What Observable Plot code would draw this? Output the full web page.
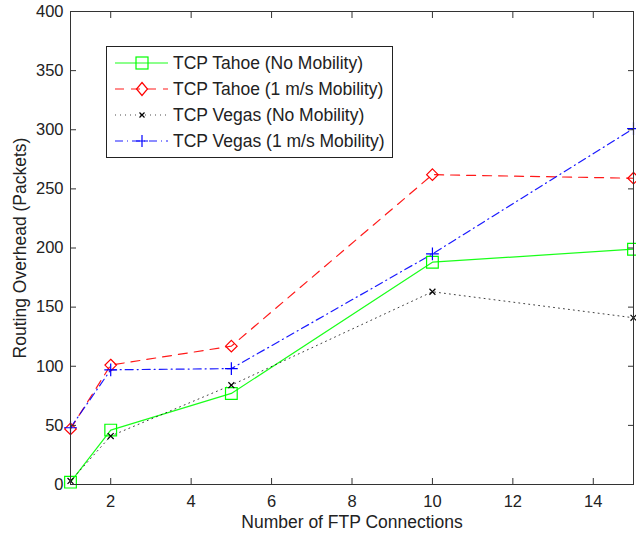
<!DOCTYPE html>
<html>
<head>
<meta charset="utf-8">
<script src="https://cdn.jsdelivr.net/npm/d3@7"></script>
<script src="https://cdn.jsdelivr.net/npm/@observablehq/plot@0.6"></script>
<style>
  html, body { margin: 0; padding: 0; background: #fff; }
  #wrap { position: relative; width: 636px; height: 535px; font-family: "Liberation Sans", Arial, sans-serif; }
  #legend { position: absolute; left: 106px; top: 46px; }
</style>
</head>
<body>
<div id="wrap"></div>
<script>
// Data
const connections = [1, 2, 5, 10, 15];
const tahoeNoMob  = [2, 46, 77, 188, 199];
const tahoeMob    = [47, 101, 117, 262, 259];
const vegasNoMob  = [3, 41, 84, 163, 141];
const vegasMob    = [48, 97, 98, 195, 301];

const seriesNames = [
  "TCP Tahoe (No Mobility)",
  "TCP Tahoe (1 m/s Mobility)",
  "TCP Vegas (No Mobility)",
  "TCP Vegas (1 m/s Mobility)"
];
const seriesValues = [tahoeNoMob, tahoeMob, vegasNoMob, vegasMob];
const xTicks = [2, 4, 6, 8, 10, 12, 14];
const yTicks = [0, 50, 100, 150, 200, 250, 300, 350, 400];
const xLabel = "Number of FTP Connections";
const yLabel = "Routing Overhead (Packets)";

const styles = [
  {color: "#00ff00", dash: null, symbol: "square", r: 6.6, sw: 1.2},
  {color: "#ff0000", dash: "9,7", symbol: "diamond2", r: 5.2, sw: 1.2},
  {color: "#000000", dash: "1,4", symbol: "times", r: 2.8, sw: 1},
  {color: "#0000ff", dash: "8,4,1,4", symbol: "plus", r: 4.2, sw: 1.2}
];

const rows = [];
seriesNames.forEach((name, i) => {
  connections.forEach((c, j) => rows.push({series: name, idx: i, x: c, y: seriesValues[i][j]}));
});

const marks = [];
styles.forEach((s, i) => {
  const d = rows.filter(r => r.idx === i);
  marks.push(Plot.line(d, {x: "x", y: "y", stroke: s.color, strokeWidth: s.sw, strokeDasharray: s.dash, strokeOpacity: i === 2 ? 0.75 : 0.9}));
});
styles.forEach((s, i) => {
  const d = rows.filter(r => r.idx === i);
  marks.push(Plot.dot(d, {x: "x", y: "y", symbol: () => s.symbol, r: s.r, stroke: s.color, fill: "none", strokeWidth: 1.2}));
});

const FONT = "Liberation Sans, Arial, sans-serif";
const plot = Plot.plot({
  width: 636,
  height: 535,
  marginLeft: 70,
  marginRight: 3,
  marginTop: 11,
  marginBottom: 51,
  style: {fontFamily: FONT, fontSize: "16px", color: "#222", background: "#fff", overflow: "visible"},
  x: {domain: [1, 15]},
  y: {domain: [0, 400]},
  marks: [
    ...marks,
    Plot.frame({stroke: "#333", strokeWidth: 1}),
    Plot.axisX(xTicks, {anchor: "bottom", tickSize: -6, tickPadding: 17, label: null, fontSize: 16.5, stroke: "#333"}),
    Plot.axisX(xTicks, {anchor: "top", tickSize: -6, tickFormat: () => "", label: null, stroke: "#333"}),
    Plot.axisY(yTicks, {anchor: "left", tickSize: -6, tickPadding: 13, label: null, fontSize: 16.5, stroke: "#333"}),
    Plot.axisY(yTicks, {anchor: "right", tickSize: -6, tickFormat: () => "", label: null, stroke: "#333"}),
    Plot.text([xLabel], {frameAnchor: "bottom", dy: 38, lineAnchor: "middle", textAnchor: "middle", fontSize: 17.5, fill: "#222"}),
    Plot.text([yLabel], {frameAnchor: "left", dx: -50, rotate: -90, lineAnchor: "middle", textAnchor: "middle", fontSize: 17.5, fill: "#222"})
  ]
});

const wrap = document.getElementById("wrap");
wrap.appendChild(plot);

// Legend
const ns = "http://www.w3.org/2000/svg";
const lg = document.createElementNS(ns, "svg");
lg.setAttribute("id", "legend");
lg.setAttribute("width", 288);
lg.setAttribute("height", 113);
const sym = {
  square: (cx, cy, c) => `<rect x="${cx-6}" y="${cy-6}" width="12" height="12" fill="none" stroke="${c}" stroke-width="1.2"/>`,
  diamond2: (cx, cy, c) => `<path d="M${cx},${cy-6.5}L${cx+5.5},${cy}L${cx},${cy+6.5}L${cx-5.5},${cy}Z" fill="none" stroke="${c}" stroke-width="1.2"/>`,
  times: (cx, cy, c) => `<path d="M${cx-2.5},${cy-2.5}L${cx+2.5},${cy+2.5}M${cx-2.5},${cy+2.5}L${cx+2.5},${cy-2.5}" stroke="${c}" stroke-width="1.2"/>`,
  plus: (cx, cy, c) => `<path d="M${cx-6},${cy}L${cx+6},${cy}M${cx},${cy-6}L${cx},${cy+6}" stroke="${c}" stroke-width="1.2"/>`
};
let html = `<rect x="0.5" y="0.5" width="286" height="111" fill="#fff" stroke="#222" stroke-width="1"/>`;
seriesNames.forEach((name, i) => {
  const s = styles[i];
  const cy = 17 + i * 26;
  html += `<line x1="9" x2="62" y1="${cy}" y2="${cy}" stroke="${s.color}" stroke-width="1.2" ${s.dash ? `stroke-dasharray="${s.dash}"` : ""} stroke-opacity="${i===2?0.7:0.9}"/>`;
  html += sym[s.symbol](36, cy, s.color);
  html += `<text x="67" y="${cy + 6}" font-size="17.5" fill="#222" font-family="${FONT}">${name}</text>`;
});
lg.innerHTML = html;
wrap.appendChild(lg);
</script>
</body>
</html>
